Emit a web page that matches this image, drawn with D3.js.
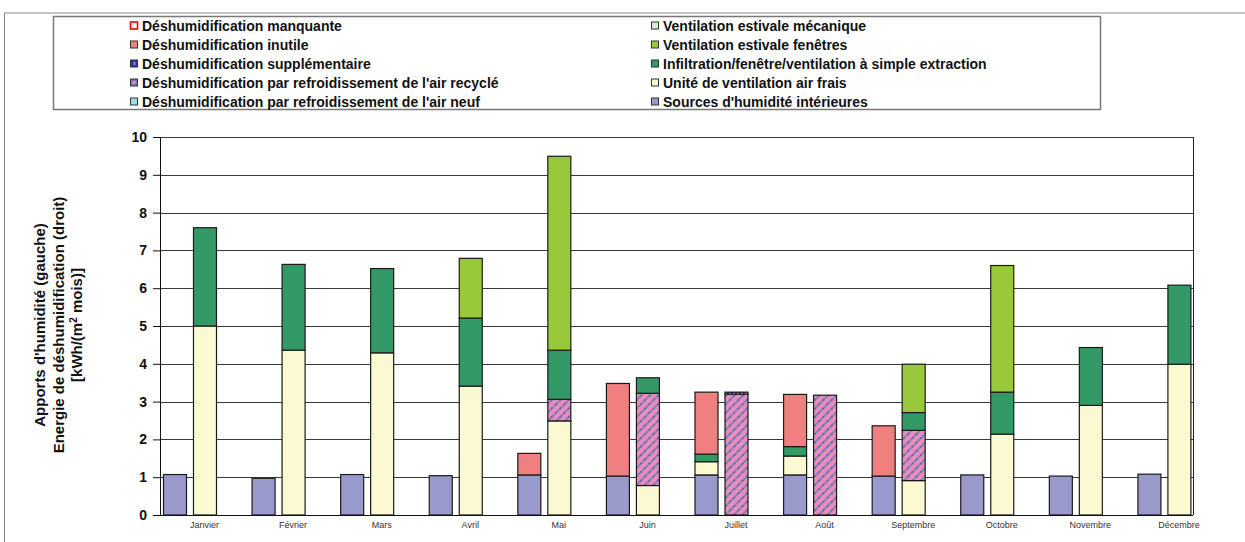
<!DOCTYPE html>
<html><head><meta charset="utf-8">
<script src="https://cdn.jsdelivr.net/npm/d3@7"></script>
<style>body{margin:0;background:#fff}svg{display:block;font-family:"Liberation Sans",Arial,sans-serif}</style>
</head><body><svg id="c" width="1245" height="542"></svg>
<script>
const months = ["Janvier","Février","Mars","Avril","Mai","Juin","Juillet","Août","Septembre","Octobre","Novembre","Décembre"];
const yTicks = [0,1,2,3,4,5,6,7,8,9,10];
// left bar ("gauche") = moisture gains ; right bar ("droit") = dehumidification energy
const sourcesG   = [1.07,0.97,1.07,1.04,1.06,1.03,1.06,1.06,1.03,1.06,1.03,1.08];
const fraisG     = [0,0,0,0,0,0,0.35,0.50,0,0,0,0];
const infilG     = [0,0,0,0,0,0,0.20,0.25,0,0,0,0];
const inutileG   = [0,0,0,0,0.57,2.45,1.64,1.38,1.33,0,0,0];
const fraisD     = [5.00,4.36,4.29,3.41,2.49,0.78,0,0,0.91,2.14,2.90,3.99];
const recycleD   = [0,0,0,0,0.57,2.44,3.20,3.17,1.33,0,0,0];
const supplD     = [0,0,0,0,0,0,0.05,0,0,0,0,0];
const infilD     = [2.60,2.27,2.23,1.80,1.30,0.41,0,0,0.47,1.11,1.53,2.09];
const fenetresD  = [0,0,0,1.58,5.13,0,0,0,1.28,3.35,0,0];
const zeros      = [0,0,0,0,0,0,0,0,0,0,0,0];

const seriesKeys = ["sources","frais","neuf","recycle","suppl","infil","fenetres","mecanique","inutile","manquante"];
const seriesNames = {
  manquante:"Déshumidification manquante",
  inutile:"Déshumidification inutile",
  suppl:"Déshumidification supplémentaire",
  recycle:"Déshumidification par refroidissement de l'air recyclé",
  neuf:"Déshumidification par refroidissement de l'air neuf",
  mecanique:"Ventilation estivale mécanique",
  fenetres:"Ventilation estivale fenêtres",
  infil:"Infiltration/fenêtre/ventilation à simple extraction",
  frais:"Unité de ventilation air frais",
  sources:"Sources d'humidité intérieures"
};
const legendLeft = ["manquante","inutile","suppl","recycle","neuf"];
const legendRight = ["mecanique","fenetres","infil","frais","sources"];
const fills = {
  sources:"#9999CC", frais:"#FBF9D2", neuf:"#99DCE4", recycle:"url(#pRecy)", suppl:"url(#pSuppl)",
  infil:"#339966", fenetres:"#99C93A", mecanique:"#D4EED0", inutile:"#F08080", manquante:"#FFFFFF"
};
const gauche = {sources:sourcesG, frais:fraisG, neuf:zeros, recycle:zeros, suppl:zeros, infil:infilG, fenetres:zeros, mecanique:zeros, inutile:inutileG, manquante:zeros};
const droit  = {sources:zeros, frais:fraisD, neuf:zeros, recycle:recycleD, suppl:supplD, infil:infilD, fenetres:fenetresD, mecanique:zeros, inutile:zeros, manquante:zeros};

const svg = d3.select("#c");
const defs = svg.append("defs");
const pr = defs.append("pattern").attr("id","pRecy").attr("patternUnits","userSpaceOnUse")
  .attr("width",6).attr("height",6).attr("patternTransform","rotate(45)");
pr.append("rect").attr("width",6).attr("height",6).attr("fill","#EA8CBA");
pr.append("rect").attr("width",2).attr("height",6).attr("fill","#8480BC");
pr.append("rect").attr("x",0).attr("y",0).attr("width",2).attr("height",1.2).attr("fill","#50609E");
const ps = defs.append("pattern").attr("id","pSuppl").attr("patternUnits","userSpaceOnUse")
  .attr("width",4).attr("height",4);
ps.append("rect").attr("width",4).attr("height",4).attr("fill","#333399");
ps.append("rect").attr("x",1).attr("y",1).attr("width",2).attr("height",1).attr("fill","#FFFFFF");

// outer frame
svg.append("line").attr("x1",4).attr("x2",1245).attr("y1",13).attr("y2",13).attr("stroke","#C4C4C4").attr("stroke-width",2);
svg.append("line").attr("x1",4.5).attr("x2",4.5).attr("y1",13).attr("y2",542).attr("stroke","#8A8A8A").attr("stroke-width",1);

// legend
svg.append("rect").attr("x",53.5).attr("y",16.5).attr("width",1047).attr("height",93).attr("fill","#fff").attr("stroke","#777").attr("stroke-width",1.5);
function legendCol(keys, mx, tx){
  keys.forEach((k,i)=>{
    const cy = 25.5 + i*19;
    const g = svg.append("g");
    if(k==="manquante"){
      g.append("rect").attr("x",mx+0.5).attr("y",cy-3.5).attr("width",7).attr("height",7).attr("fill","#fff").attr("stroke","#FF0000").attr("stroke-width",1.6);
    } else if(k==="recycle"){
      g.append("rect").attr("x",mx+0.5).attr("y",cy-3.5).attr("width",7).attr("height",7).attr("fill","#7C78B8").attr("stroke","#333").attr("stroke-width",1);
      g.append("rect").attr("x",mx+2.5).attr("y",cy-1.5).attr("width",3).attr("height",3).attr("fill","#E886B6");
    } else if(k==="suppl"){
      g.append("rect").attr("x",mx+0.5).attr("y",cy-3.5).attr("width",7).attr("height",7).attr("fill","#333399").attr("stroke","#333").attr("stroke-width",1);
      g.append("rect").attr("x",mx+3.5).attr("y",cy-1.5).attr("width",2).attr("height",3).attr("fill","#8888DD");
    } else {
      g.append("rect").attr("x",mx+0.5).attr("y",cy-3.5).attr("width",7).attr("height",7).attr("fill",fills[k]).attr("stroke","#333").attr("stroke-width",1);
    }
    svg.append("text").attr("x",tx).attr("y",cy+5).attr("font-size",14).attr("font-weight","bold").attr("fill","#111").text(seriesNames[k]);
  });
}
legendCol(legendLeft,130,142);
legendCol(legendRight,651,663);

// scales
const plotL = 160, plotR = 1193, plotT = 137, plotB = 515;
const x = d3.scaleBand().domain(months).range([160, 1223]);
const xs = d3.scaleBand().domain(["gauche","droit"]).range([3,56]).paddingInner(0.233);
const y = d3.scaleLinear().domain([0,10]).range([plotB, plotT]);

// gridlines
svg.append("g").selectAll("line").data(yTicks.filter(v=>v>0)).join("line")
  .attr("x1",plotL).attr("x2",plotR).attr("y1",d=>Math.round(y(d))+0.5).attr("y2",d=>Math.round(y(d))+0.5)
  .attr("stroke","#3a3a3a").attr("stroke-width",1);
svg.append("line").attr("x1",plotR+0.5).attr("x2",plotR+0.5).attr("y1",plotT).attr("y2",plotB).attr("stroke","#222");

// bars
function drawSide(side, src){
  const rows = months.map((m,i)=>{const r={month:m}; seriesKeys.forEach(k=>r[k]=src[k][i]); return r;});
  const stacked = d3.stack().keys(seriesKeys)(rows);
  const g = svg.append("g");
  stacked.forEach(layer=>{
    g.selectAll(null).data(layer.filter(d=>d[1]-d[0]>0.001)).join("rect")
      .attr("x",d=>x(d.data.month)+xs(side)+0.5)
      .attr("width",xs.bandwidth())
      .attr("y",d=>y(d[1]))
      .attr("height",d=>y(d[0])-y(d[1]))
      .attr("fill",fills[layer.key])
      .attr("stroke","#1a1a1a").attr("stroke-width",1.2);
  });
}
drawSide("gauche", gauche);
drawSide("droit", droit);

// axes
const yAxis = d3.axisLeft(y).tickValues(yTicks).tickSize(7).tickPadding(6).tickFormat(d3.format("d"));
const ya = svg.append("g").attr("transform",`translate(${plotL},0)`).call(yAxis);
ya.select(".domain").attr("stroke","#111");
ya.selectAll(".tick line").attr("stroke","#111");
ya.selectAll(".tick text").attr("font-size",14).attr("font-weight","bold").attr("fill","#111").attr("font-family","Liberation Sans, Arial, sans-serif");

svg.append("line").attr("x1",plotL).attr("x2",plotR).attr("y1",plotB+0.5).attr("y2",plotB+0.5).attr("stroke","#111");

const xAxis = d3.axisBottom(x).tickSize(0).tickPadding(7);
const xa = svg.append("g").attr("transform",`translate(${xs("droit")+xs.bandwidth()/2 - x.bandwidth()/2},${plotB})`).call(xAxis);
xa.select(".domain").remove();
xa.selectAll(".tick text").attr("font-size",9).attr("fill","#333").attr("font-family","Liberation Sans, Arial, sans-serif");

// y title
const yt = svg.append("text").attr("transform","translate(59,325) rotate(-90)").attr("text-anchor","middle")
  .attr("font-size",15).attr("font-weight","bold").attr("fill","#111");
yt.append("tspan").attr("x",0).attr("dy",-14).text("Apports d'humidité (gauche)");
yt.append("tspan").attr("x",0).attr("dy",18.5).text("Energie de déshumidification (droit)");
const t3 = yt.append("tspan").attr("x",0).attr("dy",18.5).text("[kWh/(m");
t3.append("tspan").attr("font-size",10).attr("dy",-5).text("2");
yt.append("tspan").attr("dy",5).text(" mois)]");
</script></body></html>
